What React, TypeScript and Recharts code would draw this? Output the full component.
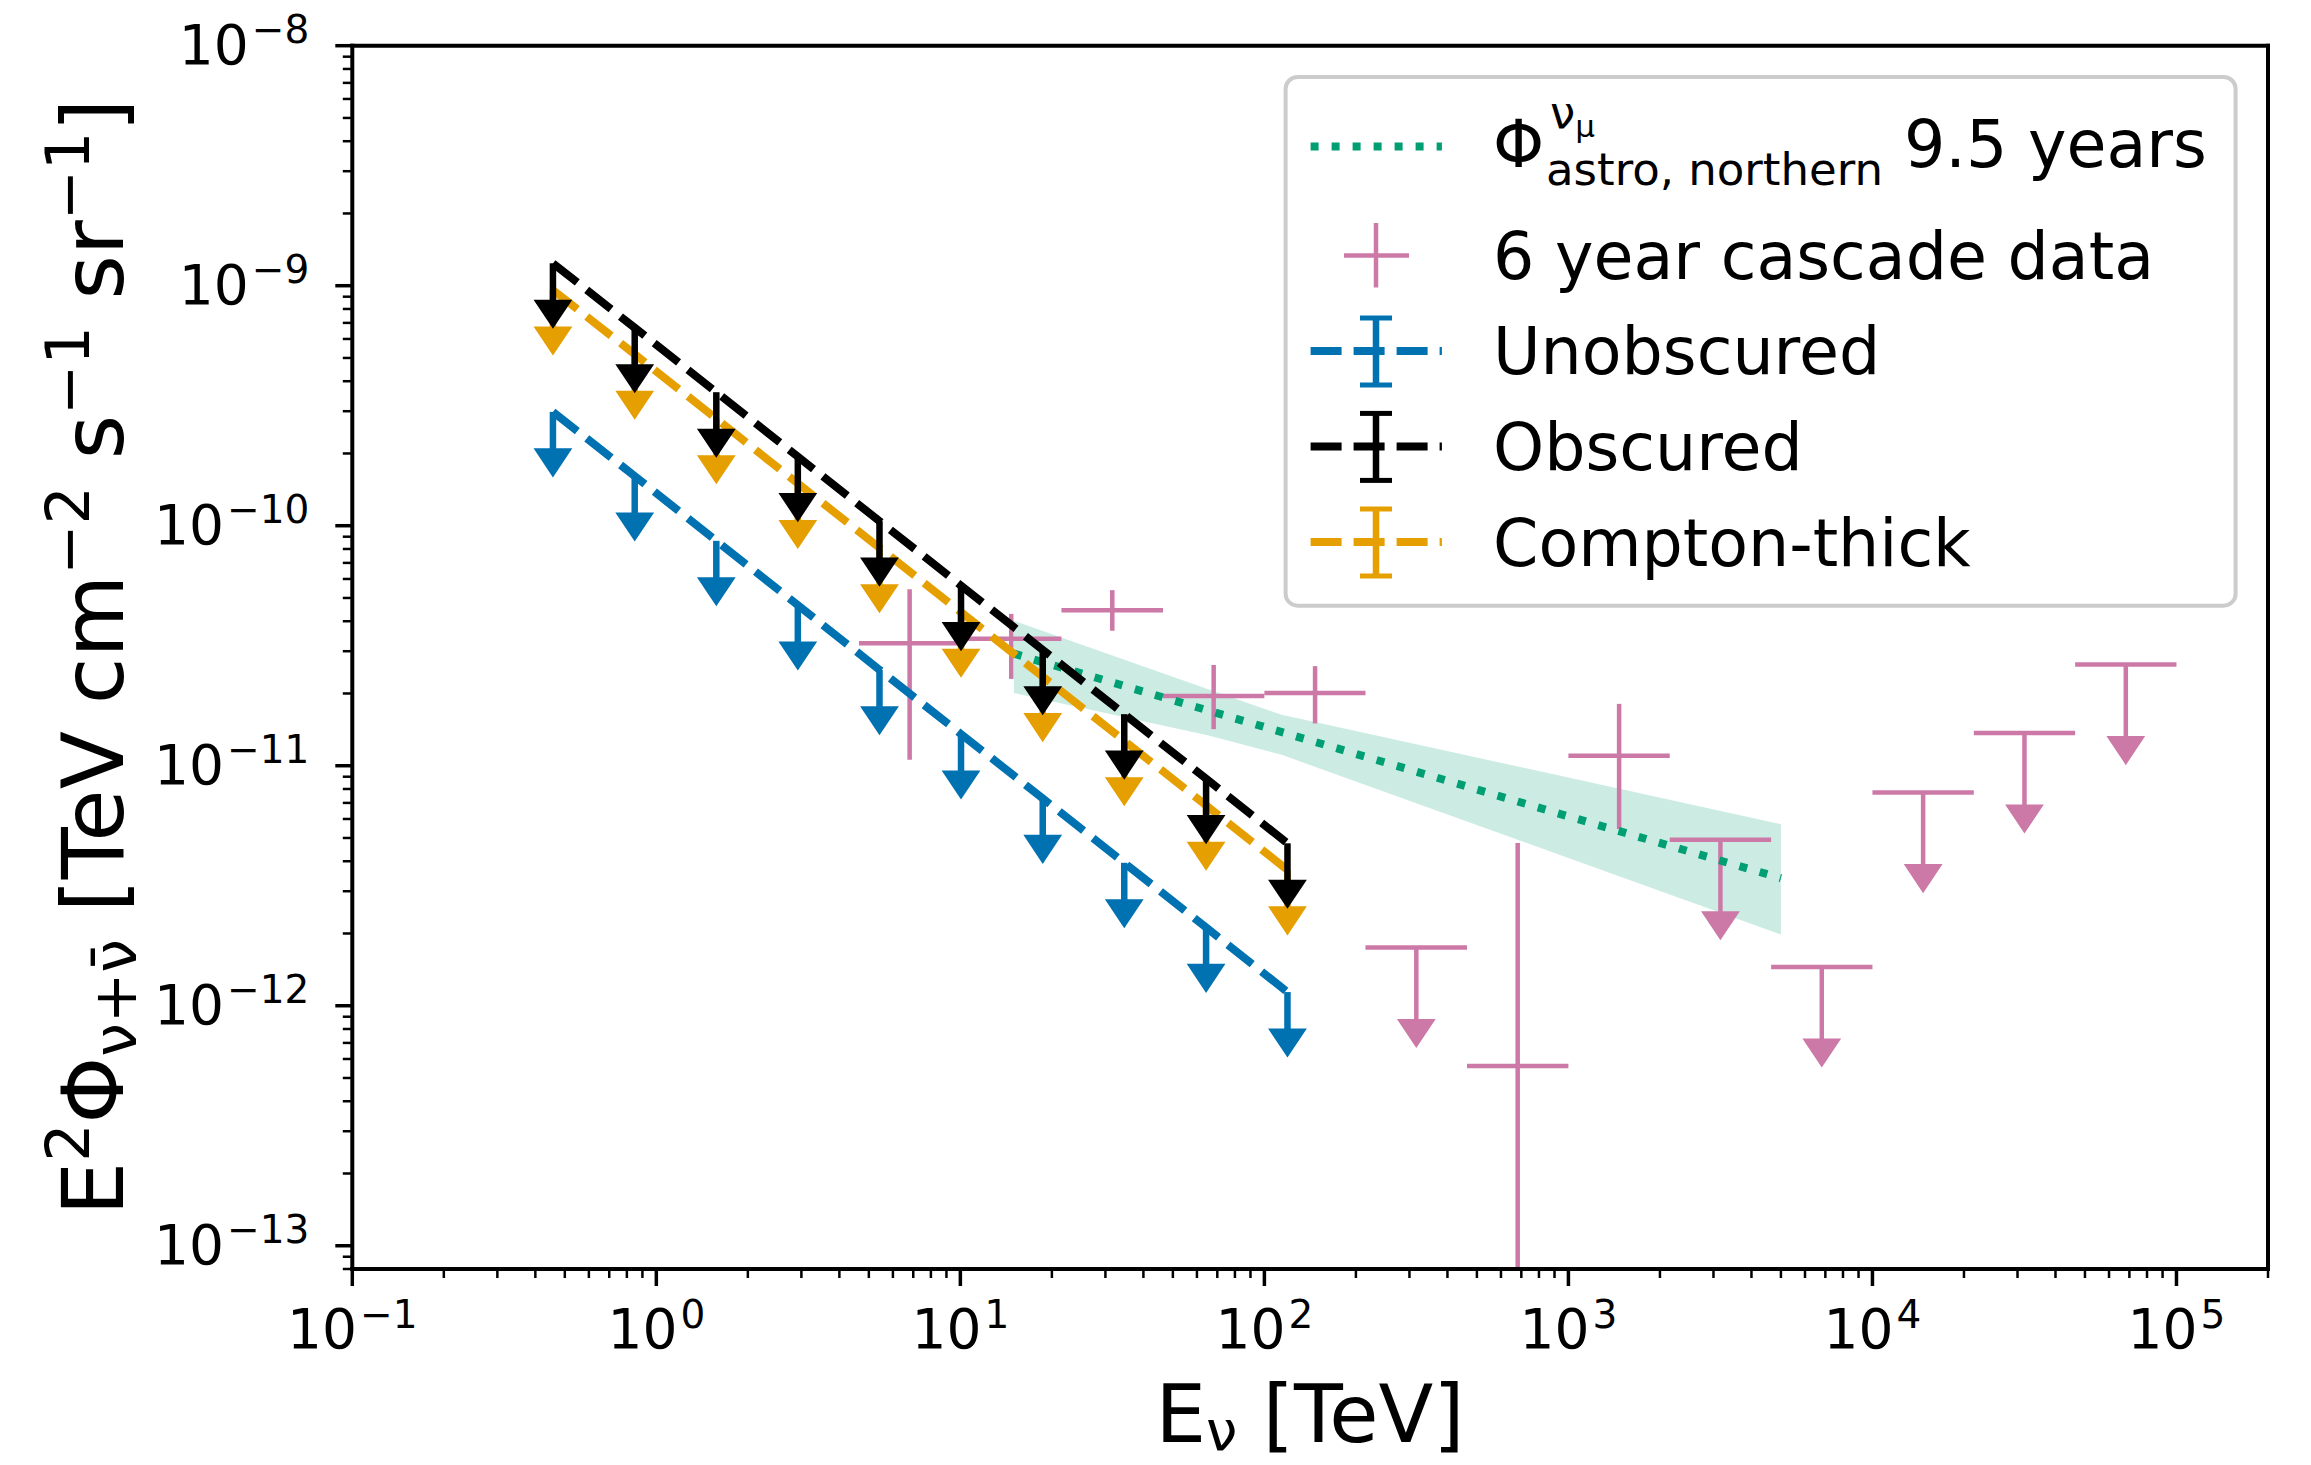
import React from 'react';
import { ComposedChart, Line, Scatter, Area, XAxis, YAxis, ErrorBar, Legend } from 'recharts';

const BLUE = '#0072B2';
const BLACK = '#000000';
const ORANGE = '#E69F00';
const GREEN = '#009E73';
const PINK = '#CC79A7';
const FONT = '"DejaVu Sans", sans-serif';

const X_MIN = 0.1;
const X_MAX = 2e5;
const Y_MIN = 8e-14;
const Y_MAX = 1e-8;

// AGN stacking upper limits (top of each arrow), TeV
const AGN_E = [0.457, 0.849, 1.575, 2.92, 5.42, 10.05, 18.66, 34.6, 64.3, 119.1];
const UNOBSCURED = [2.98e-10, 1.61e-10, 8.65e-11, 4.67e-11, 2.51e-11, 1.355e-11, 7.31e-12, 3.94e-12, 2.12e-12, 1.14e-12];
const OBSCURED = [1.24e-9, 6.68e-10, 3.6e-10, 1.94e-10, 1.045e-10, 5.63e-11, 3.04e-11, 1.64e-11, 8.83e-12, 4.75e-12];
const COMPTON_THICK = [9.59e-10, 5.18e-10, 2.79e-10, 1.5e-10, 8.09e-11, 4.36e-11, 2.35e-11, 1.27e-11, 6.84e-12, 3.68e-12];
const AGN_ARROW = 0.7;

// 6 year cascade data
const CASCADE_E = [6.81, 14.7, 31.6, 68.1, 146.8, 316, 681, 1468, 3162, 6813, 14678, 31623, 68129];
const CASCADE_E_LO = [4.64, 10, 21.5, 46.4, 100, 215, 464, 1000, 2154, 4642, 10000, 21544, 46416];
const CASCADE_E_HI = [10, 21.5, 46.4, 100, 215, 464, 1000, 2154, 4642, 10000, 21544, 46416, 100000];
const CASCADE_FLUX = [3.24e-11, 3.38e-11, 4.44e-11, 1.95e-11, 2.01e-11, 1.75e-12, 5.61e-13, 1.1e-11, 4.92e-12, 1.45e-12, 7.73e-12, 1.37e-11, 2.64e-11];
const CASCADE_HIGH = [5.43e-11, 4.29e-11, 5.39e-11, 2.63e-11, 2.6e-11, null, 4.77e-12, 1.81e-11, null, null, null, null, null];
const CASCADE_LOW = [1.06e-11, 2.3e-11, 3.65e-11, 1.42e-11, 1.5e-11, null, 0, 5.45e-12, null, null, null, null, null];
const CASCADE_UL = [false, false, false, false, false, true, false, false, true, true, true, true, true];
const CASCADE_ARROW = 0.5;

// astro northern tracks fit and band
const ASTRO_E = [15, 100, 1000, 5000];
const ASTRO_FLUX = [2.93e-11, 1.45e-11, 6.15e-12, 3.4e-12];
const BAND_E = [15, 65, 114, 5000];
const BAND_LO = [2.01e-11, 1.34e-11, 1.11e-11, 1.98e-12];
const BAND_HI = [4.02e-11, 2.09e-11, 1.63e-11, 5.71e-12];

const X_MAJOR = [0.1, 1, 10, 100, 1000, 1e4, 1e5];
const X_EXP = ['\u22121', '0', '1', '2', '3', '4', '5'];
const Y_MAJOR = [1e-13, 1e-12, 1e-11, 1e-10, 1e-9, 1e-8];
const Y_EXP = ['\u221213', '\u221212', '\u221211', '\u221210', '\u22129', '\u22128'];

const minorTicks = (lo: number, hi: number, d0: number, d1: number) => {
  const out: number[] = [];
  for (let d = d0; d <= d1; d++) {
    for (let m = 2; m <= 9; m++) {
      const v = m * Math.pow(10, d);
      if (v >= lo * 0.999 && v <= hi * 1.001) out.push(v);
    }
  }
  return out;
};
const X_TICKS = [...X_MAJOR, ...minorTicks(X_MIN, X_MAX, -1, 5)];
const Y_TICKS = [...Y_MAJOR, ...minorTicks(Y_MIN, Y_MAX, -14, -9)];

const limitLine = (vals: number[]) =>
  AGN_E.map((e, i) => ({ x: e, y: vals[i], lim: [vals[i] * (1 - AGN_ARROW), 0] }));
const limitArrows = (vals: number[]) => AGN_E.map((e, i) => ({ x: e, y: vals[i] * AGN_ARROW }));

const cascadePts = CASCADE_E.map((e, i) => {
  const y = CASCADE_FLUX[i];
  const lo = CASCADE_LOW[i];
  const hi = CASCADE_HIGH[i];
  return {
    x: e,
    y,
    ex: [e - CASCADE_E_LO[i], CASCADE_E_HI[i] - e],
    ey: CASCADE_UL[i]
      ? [y * (1 - CASCADE_ARROW), 0]
      : [y - Math.max(lo as number, Y_MIN), (hi as number) - y],
  };
});
const cascadeArrows = CASCADE_E.map((e, i) => ({ x: e, y: CASCADE_FLUX[i] * CASCADE_ARROW })).filter(
  (_, i) => CASCADE_UL[i]
);

const astroLine = ASTRO_E.map((e, i) => ({ x: e, y: ASTRO_FLUX[i] }));
const band = BAND_E.map((e, i) => ({ x: e, range: [BAND_LO[i], BAND_HI[i]] }));

const Tri = ({ cx, cy, color }: any) => (
  <path
    d={`M${cx - 18},${cy} L${cx + 18},${cy} L${cx},${cy + 27} Z`}
    fill={color}
    stroke={color}
    strokeWidth={1.5}
    strokeLinejoin="miter"
  />
);
const NoDot = () => <g />;

// axis box is 1px thick; ticks are drawn from the spine
const XTick = (props: any) => {
  const { x, payload } = props;
  const y = props.y - 1;
  const i = X_MAJOR.indexOf(payload.value);
  const major = i >= 0;
  return (
    <g>
      <line x1={x} x2={x} y1={y} y2={y + (major ? 18 : 10)} stroke="#000" strokeWidth={major ? 3.5 : 2.5} />
      {major && (
        <text x={x} y={y + 80} textAnchor="middle" fontFamily={FONT} fontSize={55} fill="#000">
          10
          <tspan dx={3} dy={-20} fontSize={39}>
            {X_EXP[i]}
          </tspan>
        </text>
      )}
    </g>
  );
};

const YTick = (props: any) => {
  const { y, payload } = props;
  const x = props.x;
  const i = Y_MAJOR.indexOf(payload.value);
  const major = i >= 0;
  return (
    <g>
      <line x1={x} x2={x - (major ? 17 : 9.5)} y1={y} y2={y} stroke="#000" strokeWidth={major ? 3.5 : 2.5} />
      {major && (
        <text x={x - 43} y={y + 18.5} textAnchor="end" fontFamily={FONT} fontSize={55} fill="#000">
          10
          <tspan dx={3} dy={-21} fontSize={39}>
            {Y_EXP[i]}
          </tspan>
        </text>
      )}
    </g>
  );
};

const XLabel = () => (
  <text x={1310} y={1442} textAnchor="middle" fontFamily={FONT} fontSize={80} fill="#000">
    E
    <tspan dy={8} fontSize={56}>
      ν
    </tspan>
    <tspan dy={-8}> [TeV]</tspan>
  </text>
);

const YLabel = () => (
  <text
    x={123}
    y={657}
    textAnchor="middle"
    fontFamily={FONT}
    fontSize={85}
    fill="#000"
    transform="rotate(-90, 123, 657)"
  >
    E
    <tspan dy={-34} fontSize={60}>
      2
    </tspan>
    <tspan dy={34}>Φ</tspan>
    <tspan dy={13} fontSize={60}>
      ν+ν̄
    </tspan>
    <tspan dy={-13}> [TeV cm</tspan>
    <tspan dy={-34} fontSize={60}>
      −2
    </tspan>
    <tspan dy={34}> s</tspan>
    <tspan dy={-34} fontSize={60}>
      −1
    </tspan>
    <tspan dy={34}> sr</tspan>
    <tspan dy={-34} fontSize={60}>
      −1
    </tspan>
    <tspan dy={34}>]</tspan>
  </text>
);

const LX = 1283;
const LY = 75;

const LimitHandle = ({ y, color }: { y: number; color: string }) => (
  <g>
    <line x1={1310.6 - LX} x2={1441.9 - LX} y1={y - LY} y2={y - LY} stroke={color} strokeWidth={8} strokeDasharray="31 12" />
    <line x1={1376 - LX} x2={1376 - LX} y1={y - 33 - LY} y2={y + 34 - LY} stroke={color} strokeWidth={6.5} />
    <line x1={1360 - LX} x2={1392 - LX} y1={y - 33 - LY} y2={y - 33 - LY} stroke={color} strokeWidth={5} />
    <line x1={1360 - LX} x2={1392 - LX} y1={y + 34 - LY} y2={y + 34 - LY} stroke={color} strokeWidth={5} />
  </g>
);

const LegendBox = () => {
  const tx = 1493 - LX;
  return (
    <svg width={956} height={536} style={{ display: 'block' }}>
      <rect x={2.6} y={2} width={950} height={528.7} rx={12} fill="#fff" fillOpacity={0.8} stroke="#cccccc" strokeWidth={4} />
      <line x1={1310.6 - LX} x2={1441.9 - LX} y1={146.4 - LY} y2={146.4 - LY} stroke={GREEN} strokeWidth={8} strokeDasharray="8 13" />
      <text x={tx} y={167 - LY} fontFamily={FONT} fontSize={65} fill="#000">
        Φ
      </text>
      <text x={1550 - LX} y={128 - LY} fontFamily={FONT} fontSize={45} fill="#000">
        ν
        <tspan dy={9} fontSize={31}>
          μ
        </tspan>
      </text>
      <text x={1546 - LX} y={185 - LY} fontFamily={FONT} fontSize={45} fill="#000">
        astro, northern
      </text>
      <text x={1904 - LX} y={167 - LY} fontFamily={FONT} fontSize={65} fill="#000">
        9.5 years
      </text>

      <line x1={1344 - LX} x2={1409 - LX} y1={255.4 - LY} y2={255.4 - LY} stroke={PINK} strokeWidth={4.5} />
      <line x1={1376 - LX} x2={1376 - LX} y1={223 - LY} y2={287.5 - LY} stroke={PINK} strokeWidth={4.5} />
      <text x={tx} y={278.6 - LY} fontFamily={FONT} fontSize={65} fill="#000">
        6 year cascade data
      </text>

      <LimitHandle y={351} color={BLUE} />
      <text x={tx} y={374 - LY} fontFamily={FONT} fontSize={65} fill="#000">
        Unobscured
      </text>
      <LimitHandle y={446.4} color={BLACK} />
      <text x={tx} y={470 - LY} fontFamily={FONT} fontSize={65} fill="#000">
        Obscured
      </text>
      <LimitHandle y={542} color={ORANGE} />
      <text x={tx} y={566 - LY} fontFamily={FONT} fontSize={65} fill="#000">
        Compton-thick
      </text>
    </svg>
  );
};

const series = [
  { name: 'Unobscured', vals: UNOBSCURED, color: BLUE },
  { name: 'Compton-thick', vals: COMPTON_THICK, color: ORANGE },
  { name: 'Obscured', vals: OBSCURED, color: BLACK },
];

const SPINE = { stroke: '#000', strokeWidth: 4, strokeLinecap: 'square' as const };

export default function App() {
  return (
    <div style={{ position: 'fixed', left: 0, top: 0, width: 2311, height: 1465, background: '#fff', fontFamily: FONT }}>
      <ComposedChart width={2311} height={1465} margin={{ top: 44.7, right: 42, bottom: 195, left: 351.3 }}>
        <XAxis
          type="number"
          dataKey="x"
          scale="log"
          domain={[X_MIN, X_MAX]}
          allowDataOverflow
          ticks={X_TICKS}
          interval={0}
          height={1}
          tickSize={0}
          tickMargin={0}
          tickLine={false}
          tick={(p: any) => <XTick {...p} />}
          axisLine={SPINE}
          label={<XLabel />}
        />
        <XAxis
          xAxisId="top"
          orientation="top"
          type="number"
          scale="log"
          domain={[X_MIN, X_MAX]}
          allowDataOverflow
          height={1}
          tick={false}
          tickLine={false}
          axisLine={SPINE}
        />
        <YAxis
          type="number"
          dataKey="y"
          scale="log"
          domain={[Y_MIN, Y_MAX]}
          allowDataOverflow
          ticks={Y_TICKS}
          interval={0}
          width={1}
          tickSize={0}
          tickMargin={0}
          tickLine={false}
          tick={(p: any) => <YTick {...p} />}
          axisLine={SPINE}
          label={<YLabel />}
        />
        <YAxis
          yAxisId="right"
          orientation="right"
          type="number"
          scale="log"
          domain={[Y_MIN, Y_MAX]}
          allowDataOverflow
          width={1}
          tick={false}
          tickLine={false}
          axisLine={SPINE}
        />

        <Area
          data={band}
          dataKey="range"
          type="linear"
          stroke="none"
          fill={GREEN}
          fillOpacity={0.2}
          isAnimationActive={false}
          activeDot={false}
        />

        <Scatter data={cascadePts} fill={PINK} shape={<NoDot />} isAnimationActive={false}>
          <ErrorBar dataKey="ex" direction="x" width={0} stroke={PINK} strokeWidth={4.5} />
          <ErrorBar dataKey="ey" direction="y" width={0} stroke={PINK} strokeWidth={4.5} />
        </Scatter>
        <Scatter
          data={cascadeArrows}
          fill={PINK}
          shape={(p: any) => <Tri {...p} color={PINK} />}
          isAnimationActive={false}
        />

        <Line
          data={astroLine}
          dataKey="y"
          type="linear"
          stroke={GREEN}
          strokeWidth={8}
          strokeDasharray="8 13"
          dot={false}
          activeDot={false}
          isAnimationActive={false}
        />

        {series.map((s) => (
          <Line
            key={s.name}
            data={limitLine(s.vals)}
            dataKey="y"
            type="linear"
            stroke={s.color}
            strokeWidth={8}
            strokeDasharray="31 12"
            dot={false}
            activeDot={false}
            isAnimationActive={false}
          >
            <ErrorBar dataKey="lim" direction="y" width={0} stroke={s.color} strokeWidth={6.5} />
          </Line>
        ))}
        {series.map((s) => (
          <Scatter
            key={s.name + '-arrow'}
            data={limitArrows(s.vals)}
            fill={s.color}
            shape={(p: any) => <Tri {...p} color={s.color} />}
            isAnimationActive={false}
          />
        ))}

        <Legend
          layout="vertical"
          align="center"
          verticalAlign="middle"
          content={() => <LegendBox />}
          wrapperStyle={{ position: 'absolute', left: LX, top: LY, width: 956, height: 536, margin: 0 }}
        />
      </ComposedChart>
    </div>
  );
}
